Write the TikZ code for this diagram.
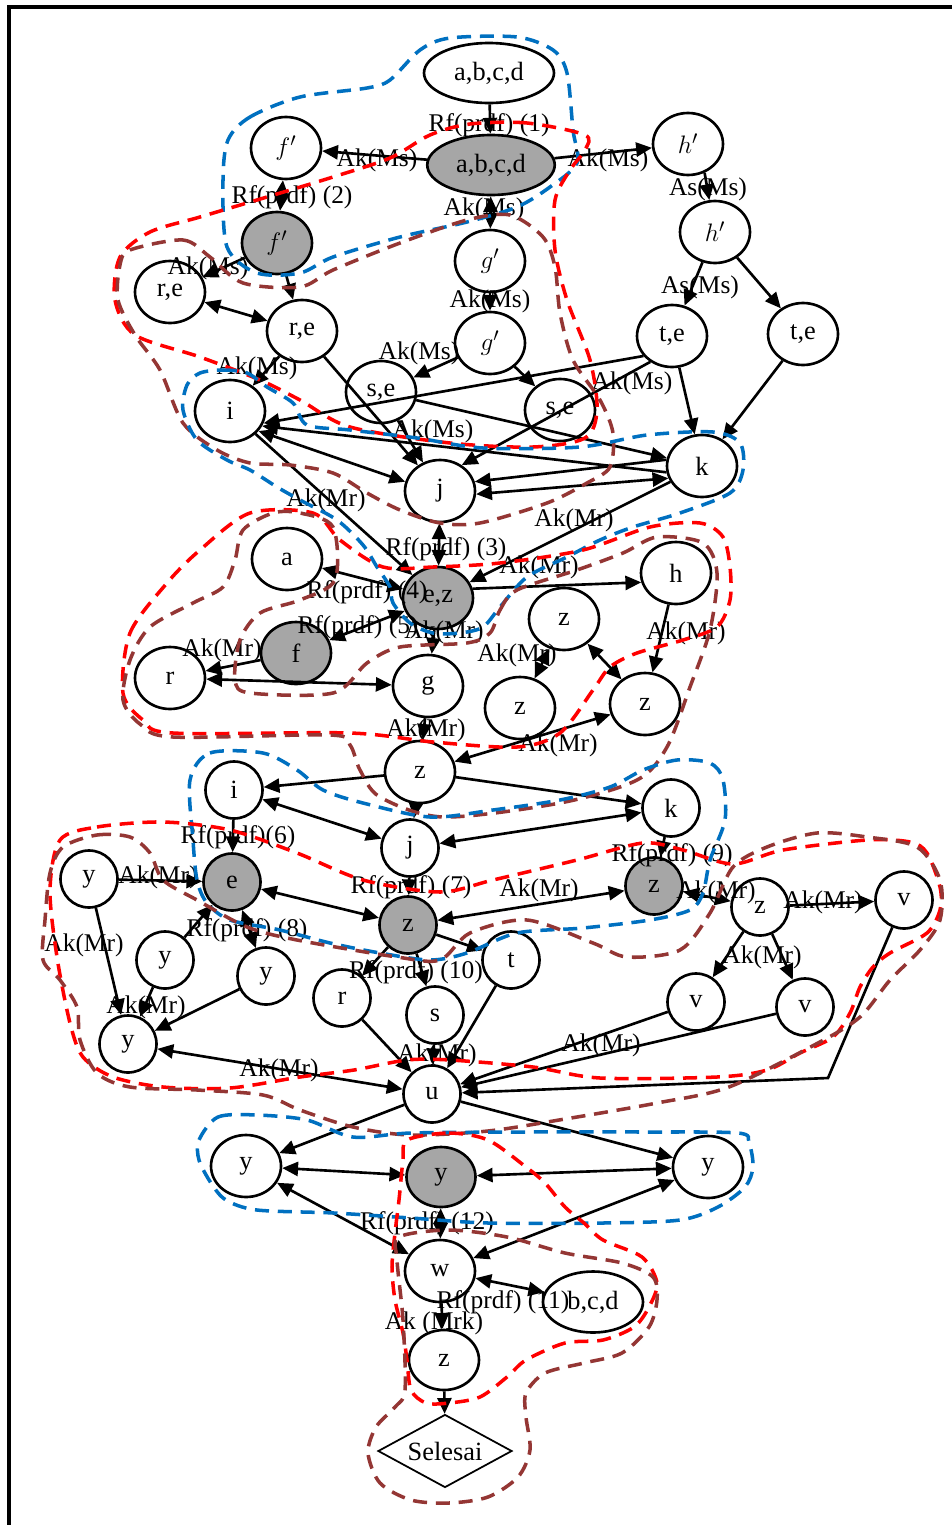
\documentclass[tikz,border=0pt]{standalone}
\usepackage{fontspec}
\setmainfont{Liberation Serif}
\usetikzlibrary{arrows.meta,shapes.geometric}
\definecolor{grpblue}{HTML}{0070C0}
\definecolor{grpred}{HTML}{FF0000}
\definecolor{grpbrown}{HTML}{943634}

\begin{document}
\begin{tikzpicture}[
  x=0.02cm, y=-0.02cm,
  >={Triangle[length=9pt,width=8pt]},
  stage/.style={ellipse, draw, line width=1.5pt, fill=white, inner sep=0pt,
    minimum width=1.4cm, minimum height=1.24cm, font=\fontsize{15}{16}\selectfont},
  small stage/.style={stage, minimum width=1.14cm, minimum height=1.14cm},
  hit/.style={fill=gray!70},
  arc label/.style={font=\fontsize{14.5}{15}\selectfont, inner sep=0pt},
  link/.style={->, line width=1.5pt},
  blob/.style={line width=2pt, dash pattern=on 8pt off 5pt}
]
  \useasboundingbox (0,0) rectangle (952,1525);
  \draw[line width=2.3pt] (9,1540) -- (9,7) -- (970,7);

  % upper part: moves on Ms
  \node[stage, minimum width=2.6cm, minimum height=1.2cm] (abcd) at (489,73) {a,b,c,d};
  \node[stage, hit, minimum width=2.55cm, minimum height=1.2cm] (abcdx) at (491,165) {a,b,c,d};
  \node[stage] (f1) at (286,148) {$f'$};
  \node[stage, hit] (f2) at (277,243) {$f'$};
  \node[stage] (h1) at (688,144) {$h'$};
  \node[stage] (h2) at (715,232) {$h'$};
  \node[stage] (g1) at (490,261) {$g'$};
  \node[stage] (g2) at (490,343) {$g'$};
  \node[stage] (re1) at (170,292) {r,e};
  \node[stage] (re2) at (302,331) {r,e};
  \node[stage] (te1) at (672,336) {t,e};
  \node[stage] (te2) at (803,334) {t,e};
  \node[stage] (se1) at (381,392) {s,e};
  \node[stage] (se2) at (560,410) {s,e};
  \node[stage] (i1) at (230,411) {i};
  \node[stage] (j1) at (440,491) {j};
  \node[stage] (k1) at (702,466) {k};

  % middle part: moves on Mr
  \node[stage] (a) at (287,559) {a};
  \node[stage, hit] (ez) at (438,598) {\raisebox{-5pt}{e,z}};
  \node[stage] (h) at (676,573) {h};
  \node[stage, hit] (f) at (296,653) {\raisebox{-3pt}{f}};
  \node[stage] (r1) at (170,678) {r};
  \node[stage] (g) at (428,686) {g};
  \node[stage] (z1) at (564,619) {z};
  \node[stage] (z2) at (520,708) {z};
  \node[stage] (z3) at (645,704) {z};
  \node[stage] (z4) at (420,772) {z};

  \node[small stage] (i2) at (234,790) {i};
  \node[small stage] (k2) at (671,808) {k};
  \node[small stage] (j2) at (410,848) {j};
  \node[small stage] (y1) at (89,879) {y};
  \node[small stage, hit] (e) at (232,882) {e};
  \node[small stage, hit] (zg1) at (408,925) {z};
  \node[small stage, hit] (zg2) at (654,886) {z};
  \node[small stage] (z5) at (760,907) {\raisebox{-2pt}{z}};
  \node[small stage] (v1) at (904,900) {v};
  \node[small stage] (y2) at (165,960) {y};
  \node[small stage] (y3) at (266,976) {y};
  \node[small stage] (t) at (511,960) {t};
  \node[small stage] (r2) at (342,998) {r};
  \node[small stage] (s) at (435,1015) {s};
  \node[small stage] (v2) at (696,1002) {v};
  \node[small stage] (v3) at (805,1007) {v};
  \node[small stage] (y4) at (128,1044) {y};
  \node[small stage] (u) at (432,1094) {u};
  \coordinate (vbend) at (828,1078);

  % lower part
  \node[stage] (y5) at (246,1166) {y};
  \node[stage, hit, minimum width=1.38cm, minimum height=1.2cm] (yg) at (441,1177) {\raisebox{-5pt}{y}};
  \node[stage] (y6) at (708,1167) {y};
  \node[stage] (w) at (440,1271) {w};
  \node[stage, minimum width=2cm, minimum height=1.22cm] (bcd) at (593,1302) {b,c,d};
  \node[stage, minimum height=1.2cm] (z6) at (444,1360) {z};
  \node[diamond, draw, line width=1pt, inner sep=0pt, aspect=1.8,
    minimum width=2.68cm, minimum height=1.46cm,
    font=\fontsize{15}{16}\selectfont] (sel) at (445,1451) {Selesai};

  \path[link]
    (abcd) edge (abcdx)
    (abcdx) edge (f1)
            edge (h1)
            edge[<->] (g1)
    (f1) edge[<->] (f2)
    (h1.-60) edge (h2.100)
    (h2) edge (te1)
         edge (te2)
    (f2) edge (re1)
         edge (re2)
    (re1) edge[<->] (re2)
    (g1) edge (g2)
    (g2) edge (se1)
         edge (se2)
    (re2) edge (i1)
          edge (j1)
    (se1) edge (j1)
          edge (k1)
    (te1.215) edge (i1.-20)
    (k1.190) edge (i1.-25)
    (te1.230) edge (j1.50)
    (te1) edge (k1)
    (te2) edge (k1)
    (i1.-35) edge[<->] (j1.165)
    (k1.170) edge (j1.15)
    (j1.-5) edge[<->] (k1.200)
    (k1) edge (ez)
    (i1) edge (ez)
    (j1) edge[<->] (ez)
    (ez.15) edge (h.195)
    (a) edge[<->] (ez)
    (ez) edge[<->] (f)
         edge (g)
    (f) edge (r1)
    (r1) edge[<->] (g)
    (z1) edge[<->] (z2)
         edge[<->] (z3)
    (h) edge (z3)
    (g) edge (z4)
    (z3) edge[<->] (z4)
    (z4) edge (i2)
         edge (j2)
         edge (k2)
    (i2) edge[<->] (j2)
    (j2) edge[<->] (k2)
    (i2) edge (e)
    (k2) edge (zg2)
    (j2) edge (zg1)
    (y1) edge (e)
         edge (y4)
    (e) edge[<->] (zg1)
        edge[<->] (y3)
    (zg2) edge[<->] (zg1)
          edge[<->] (z5)
    (z5) edge (v1)
         edge (v2)
         edge (v3)
    (y2) edge (e)
         edge (y4)
    (y3) edge (y4)
    (zg1) edge (r2)
          edge (s)
          edge (t)
    (y4) edge[<->] (u)
    (r2) edge (u)
    (s) edge (u)
    (t) edge (u)
    (v2) edge (u)
    (v3) edge (u)
    (u) edge (y5)
        edge (y6)
    (y5) edge[<->] (yg)
         edge[<->] (w)
    (yg) edge[<->] (y6)
         edge[<->] (w)
    (y6) edge[<->] (w)
    (w) edge[<->] (bcd)
        edge (z6)
    (z6) edge (sel);
  \draw[link] (v1) -- (vbend) -- (u);

  % labels of the moves
  \node[arc label] (lb1) at (489,125) {Rf(prdf) (1)};
  \node[arc label] (lb2) at (377,160) {Ak(Ms)};
  \node[arc label] (lb3) at (608,160) {Ak(Ms)};
  \node[arc label] (lb4) at (292,197) {Rf(prdf) (2)};
  \node[arc label] (lb5) at (484,209) {Ak(Ms)};
  \node[arc label] (lb6) at (708,189) {As(Ms)};
  \node[arc label] (lb7) at (700,287) {As(Ms)};
  \node[arc label] (lb8) at (208,268) {Ak(Ms)};
  \node[arc label] (lb9) at (490,301) {Ak(Ms)};
  \node[arc label] (lb10) at (419,353) {Ak(Ms)};
  \node[arc label] (lb11) at (257,368) {Ak(Ms)};
  \node[arc label] (lb12) at (632,383) {Ak(Ms)};
  \node[arc label] (lb13) at (433,431) {Ak(Ms)};
  \node[arc label] (lb14) at (326,500) {Ak(Mr)};
  \node[arc label] (lb15) at (574,520) {Ak(Mr)};
  \node[arc label] (lb16) at (446,549) {Rf(prdf) (3)};
  \node[arc label] (lb17) at (539,567) {Ak(Mr)};
  \node[arc label] (lb18) at (367,592) {Rf(prdf) (4)};
  \node[arc label] (lb19) at (358,627) {Rf(prdf) (5)};
  \node[arc label] (lb20) at (444,632) {Ak(Mr)};
  \node[arc label] (lb21) at (222,650) {Ak(Mr)};
  \node[arc label] (lb22) at (517,655) {Ak(Mr)};
  \node[arc label] (lb23) at (686,633) {Ak(Mr)};
  \node[arc label] (lb24) at (426,730) {Ak(Mr)};
  \node[arc label] (lb25) at (558,745) {Ak(Mr)};
  \node[arc label] (lb26) at (238,837) {Rf(prdf)(6)};
  \node[arc label] (lb27) at (672,855) {Rf(prdf) (9)};
  \node[arc label] (lb28) at (158,877) {Ak(Mr)};
  \node[arc label] (lb29) at (411,887) {Rf(prdf) (7)};
  \node[arc label] (lb30) at (539,890) {Ak(Mr)};
  \node[arc label] (lb31) at (716,892) {Ak(Mr)};
  \node[arc label] (lb32) at (823,902) {Ak(Mr)};
  \node[arc label] (lb33) at (84,945) {Ak(Mr)};
  \node[arc label] (lb34) at (247,930) {Rf(prdf) (8)};
  \node[arc label] (lb35) at (416,972) {Rf(prdf) (10)};
  \node[arc label] (lb36) at (762,957) {Ak(Mr)};
  \node[arc label] (lb37) at (146,1007) {Ak(Mr)};
  \node[arc label] (lb38) at (437,1055) {Ak(Mr)};
  \node[arc label] (lb39) at (601,1045) {Ak(Mr)};
  \node[arc label] (lb40) at (279,1070) {Ak(Mr)};
  \node[arc label] (lb41) at (427,1223) {Rf(prdf) (12)};
  \node[arc label] (lb42) at (503,1302) {Rf(prdf) (11)};
  \node[arc label] (lb43) at (434,1323) {Ak (Mrk)};

  % dashed groups
  \draw[blob, grpblue] plot[smooth cycle] coordinates {(228,140) (250,117) (300,97) (367,88) (390,80) (420,50) (450,38) (517,37) (553,50) (567,73) (573,130) (577,163) (550,187) (517,207) (467,222) (400,237) (333,257) (300,273) (257,273) (227,247) (223,180)};
  \draw[blob, grpred] plot[smooth cycle] coordinates {(585,135) (527,123) (470,124) (430,135) (390,158) (333,177) (267,197) (200,217) (150,232) (120,257) (115,300) (135,335) (200,357) (260,380) (300,400) (350,427) (450,443) (533,447) (585,438) (597,410) (590,360) (567,300) (555,250) (555,200) (570,170) (585,150)};
  \draw[blob, grpbrown] plot[smooth cycle] coordinates {(130,250) (183,240) (210,257) (243,283) (300,287) (333,270) (400,243) (467,220) (510,215) (543,237) (555,267) (560,313) (573,360) (600,400) (613,433) (610,467) (587,483) (547,503) (480,523) (440,523) (400,510) (367,493) (333,473) (290,465) (250,463) (217,450) (183,423) (160,370) (135,335) (118,300) (120,265)};
  \draw[blob, grpblue] plot[smooth cycle] coordinates {(200,373) (223,370) (247,373) (267,387) (293,403) (307,425) (350,430) (417,438) (483,448) (580,447) (647,435) (713,432) (740,443) (743,470) (730,493) (680,513) (633,527) (600,540) (567,557) (527,577) (500,607) (483,627) (460,633) (433,633) (410,623) (393,603) (390,587) (377,567) (363,545) (337,520) (300,500) (277,487) (250,470) (227,460) (197,440) (183,410) (187,385)};
  \draw[blob, grpred] plot[smooth cycle] coordinates {(123,693) (130,633) (167,583) (200,550) (250,513) (313,513) (340,540) (383,567) (433,567) (500,563) (583,550) (650,527) (700,523) (723,537) (730,567) (730,600) (717,627) (683,640) (637,653) (610,667) (593,690) (560,733) (517,747) (433,742) (350,733) (173,733) (143,720)};
  \draw[blob, grpbrown] plot[smooth cycle] coordinates {(490,633) (500,610) (517,590) (577,570) (623,553) (657,537) (703,543) (717,573) (710,630) (690,687) (667,747) (637,780) (560,803) (443,817) (380,797) (360,770) (350,745) (330,735) (173,737) (140,724) (123,700) (130,660) (150,627) (193,603) (223,587) (235,560) (243,530) (273,513) (300,513) (333,527) (335,580) (300,600) (260,613) (240,640) (235,680) (250,693) (333,693) (367,663) (400,647) (467,643)};
  \draw[blob, grpblue] plot[smooth cycle] coordinates {(190,780) (210,753) (263,753) (297,770) (323,790) (363,803) (430,817) (493,810) (560,800) (610,787) (643,770) (677,760) (710,763) (723,780) (725,820) (710,860) (703,893) (690,910) (650,920) (583,928) (517,933) (467,953) (430,960) (380,953) (330,943) (280,930) (230,920) (207,903) (197,880) (193,840)};
  \draw[blob, grpred] plot[smooth cycle] coordinates {(60,840) (97,827) (163,822) (230,830) (297,853) (363,880) (440,892) (493,880) (577,860) (643,843) (683,850) (733,864) (783,850) (867,840) (910,842) (927,853) (940,887) (940,910) (927,933) (890,953) (873,967) (860,987) (850,1013) (833,1037) (800,1053) (767,1070) (717,1077) (600,1078) (533,1067) (450,1060) (407,1060) (354,1070) (300,1077) (230,1088) (163,1087) (113,1077) (83,1057) (70,1023) (57,957) (50,890)};
  \draw[blob, grpbrown] plot[smooth cycle] coordinates {(63,847) (97,835) (130,837) (150,853) (163,880) (197,900) (247,927) (297,940) (397,957) (440,960) (470,933) (527,920) (593,943) (627,957) (680,950) (710,913) (733,867) (767,847) (817,833) (867,837) (917,847) (940,880) (940,920) (920,950) (890,980) (860,1017) (818,1043) (729,1087) (657,1103) (565,1119) (488,1131) (410,1135) (353,1127) (300,1110) (263,1095) (197,1090) (130,1087) (97,1073) (80,1040) (77,1007) (60,980) (43,960) (45,920) (50,873)};
  \draw[blob, grpblue] plot[smooth cycle] coordinates {(199,1140) (218,1117) (257,1115) (307,1120) (353,1137) (411,1133) (526,1132) (642,1132) (738,1133) (749,1143) (753,1167) (745,1187) (718,1207) (680,1220) (603,1223) (488,1223) (411,1218) (334,1213) (257,1210) (226,1200) (211,1183) (199,1160)};
  \draw[blob, grpred] plot[smooth cycle] coordinates {(407,1140) (449,1133) (488,1140) (526,1167) (545,1183) (565,1207) (584,1223) (603,1240) (642,1257) (657,1283) (649,1307) (634,1327) (603,1340) (565,1343) (526,1360) (507,1377) (480,1397) (449,1403) (426,1403) (411,1390) (407,1360) (403,1333) (395,1300) (392,1267) (395,1233) (399,1200) (403,1160)};
  \draw[blob, grpbrown] plot[smooth cycle] coordinates {(399,1237) (449,1230) (507,1237) (565,1253) (622,1263) (653,1277) (657,1300) (649,1327) (622,1353) (584,1363) (545,1373) (526,1393) (526,1417) (530,1450) (518,1477) (488,1497) (449,1503) (411,1500) (380,1483) (368,1453) (376,1427) (395,1407) (405,1390) (403,1320) (397,1260)};
\end{tikzpicture}
\end{document}
